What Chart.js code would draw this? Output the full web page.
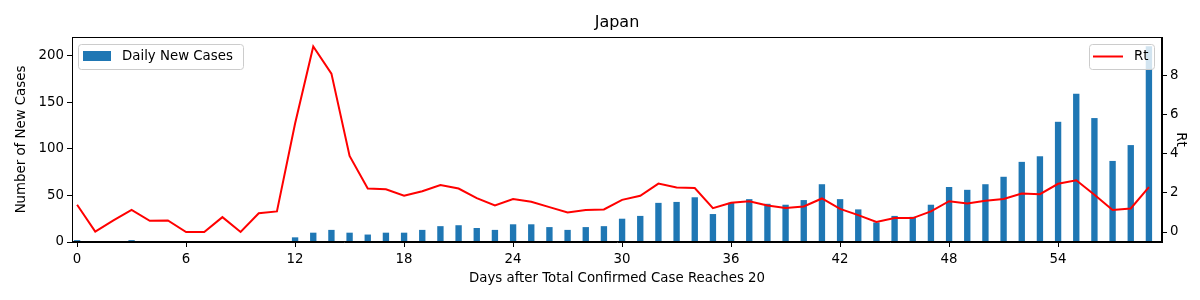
<!doctype html>
<html lang="en">
  <head>
    <meta charset="utf-8">
    <title>Japan - daily new cases and Rt</title>
    <style>
      * { margin: 0; padding: 0; }
      body { background: #ffffff; }
      .chartBox { width: 1200px; height: 300px; }
    </style>
  </head>
  <body>
    <div class="chartBox">
      <canvas id="myChart" width="1200" height="300"></canvas>
    </div>
    <script src="https://cdn.jsdelivr.net/npm/chart.js"></script>
    <script>
    // data
    const days = [0,1,2,3,4,5,6,7,8,9,10,11,12,13,14,15,16,17,18,19,20,21,22,23,24,25,26,27,28,29,
                  30,31,32,33,34,35,36,37,38,39,40,41,42,43,44,45,46,47,48,49,50,51,52,53,54,55,56,57,58,59];
    const dailyNewCases = [2,0,1,2,1,1,0,0,1,0,1,1,5,10,13,10,8,10,10,13,17,18,15,13,19,19,16,13,16,17,
                           25,28,42,43,48,30,42,46,41,40,45,62,46,35,21,28,27,40,59,56,62,70,86,92,129,159,133,87,104,210];
    const rt = [1.39,0.02,0.59,1.13,0.57,0.59,0.0,0.0,0.76,0.0,0.96,1.05,5.54,9.47,8.08,3.88,2.22,2.18,1.85,2.08,
                2.40,2.22,1.73,1.35,1.68,1.54,1.27,1.0,1.12,1.15,1.64,1.85,2.47,2.27,2.24,1.22,1.49,1.57,1.35,1.22,
                1.30,1.71,1.18,0.86,0.51,0.71,0.71,1.05,1.57,1.45,1.59,1.68,1.96,1.93,2.46,2.64,1.90,1.12,1.20,2.29];
    const xTicks = [0,6,12,18,24,30,36,42,48,54];
    const caseTicks = [0,50,100,150,200];
    const rtTicks = [0,2,4,6,8];

    Chart.defaults.font.family = '"DejaVu Sans", sans-serif';
    Chart.defaults.color = '#000000';

    const tickFont = { size: 13.33 };

    // matplotlib style frame, title over the axes and the two separate legends
    const framePlugin = {
      id: 'frame',
      afterDraw(chart) {
        const ctx = chart.ctx;
        const a = chart.chartArea;
        ctx.save();
        ctx.strokeStyle = '#000000';
        ctx.lineWidth = 1;
        ctx.strokeRect(Math.round(a.left) + 0.5, Math.round(a.top) + 0.5,
                       Math.round(a.right - a.left) - 1, Math.round(a.bottom - a.top) - 1);

        // title centred over the plot area
        ctx.font = '16px "DejaVu Sans", sans-serif';
        ctx.fillStyle = '#000000';
        ctx.textAlign = 'center';
        ctx.textBaseline = 'middle';
        ctx.fillText('Japan', (a.left + a.right) / 2, 23);

        function box(x, y, w, h) {
          const r = 3;
          ctx.beginPath();
          ctx.moveTo(x + r, y);
          ctx.arcTo(x + w, y, x + w, y + h, r);
          ctx.arcTo(x + w, y + h, x, y + h, r);
          ctx.arcTo(x, y + h, x, y, r);
          ctx.arcTo(x, y, x + w, y, r);
          ctx.closePath();
          ctx.fillStyle = 'rgba(255,255,255,0.8)';
          ctx.fill();
          ctx.strokeStyle = '#cccccc';
          ctx.lineWidth = 1;
          ctx.stroke();
        }
        ctx.font = '13.33px "DejaVu Sans", sans-serif';
        ctx.textAlign = 'left';

        // left legend: bars
        box(78.5, 44.5, 165, 25);
        ctx.fillStyle = '#1f77b4';
        ctx.fillRect(83, 51, 28, 10);
        ctx.fillStyle = '#000000';
        ctx.fillText('Daily New Cases', 122, 57);

        // right legend: line
        box(1089.5, 44.5, 65, 25);
        ctx.strokeStyle = '#ff0000';
        ctx.lineWidth = 2;
        ctx.beginPath();
        ctx.moveTo(1093, 56.5);
        ctx.lineTo(1123, 56.5);
        ctx.stroke();
        ctx.fillStyle = '#000000';
        ctx.fillText('Rt', 1134, 57);
        ctx.restore();
      }
    };

    const data = {
      datasets: [
        {
          type: 'line',
          label: 'Rt',
          data: days.map((d, i) => ({ x: d, y: rt[i] })),
          yAxisID: 'y1',
          borderColor: '#ff0000',
          borderWidth: 2,
          pointRadius: 0,
          tension: 0,
          order: 0
        },
        {
          type: 'bar',
          label: 'Daily New Cases',
          data: days.map((d, i) => ({ x: d, y: dailyNewCases[i] })),
          yAxisID: 'y',
          backgroundColor: '#1f77b4',
          borderWidth: 0,
          barPercentage: 0.35,
          categoryPercentage: 1,
          order: 1
        }
      ]
    };

    const config = {
      type: 'bar',
      data,
      plugins: [framePlugin],
      options: {
        responsive: false,
        animation: false,
        layout: { padding: { top: 37, left: 0, right: 0, bottom: 0 } },
        plugins: {
          legend: { display: false },
          tooltip: { enabled: false },
          title: { display: false }
        },
        scales: {
          x: {
            type: 'linear',
            offset: false,
            min: -0.28,
            max: 59.72,
            afterBuildTicks: s => { s.ticks = xTicks.map(v => ({ value: v })); },
            afterFit: s => { s.height = 58; },
            ticks: { font: tickFont, padding: 5, maxRotation: 0, autoSkip: false },
            grid: { drawOnChartArea: false, offset: false, drawTicks: true, tickLength: 5, tickColor: '#000000' },
            border: { display: true, color: '#000000' },
            title: {
              display: true,
              text: 'Days after Total Confirmed Case Reaches 20',
              font: { size: 13.33 },
              padding: { top: 0, bottom: 13 }
            }
          },
          y: {
            position: 'left',
            min: 0,
            max: 220,
            afterBuildTicks: s => { s.ticks = caseTicks.map(v => ({ value: v })); },
            afterFit: s => { s.width = 72; },
            ticks: { font: tickFont, padding: 3 },
            grid: { drawOnChartArea: false, drawTicks: true, tickLength: 5, tickColor: '#000000' },
            border: { display: true, color: '#000000' },
            title: {
              display: true,
              text: 'Number of New Cases',
              font: { size: 13.33 },
              padding: { top: 14, bottom: 0 }
            }
          },
          y1: {
            position: 'right',
            min: -0.51,
            max: 9.95,
            afterBuildTicks: s => { s.ticks = rtTicks.map(v => ({ value: v })); },
            afterFit: s => { s.width = 38; },
            ticks: { font: tickFont, padding: 3 },
            grid: { drawOnChartArea: false, drawTicks: true, tickLength: 5, tickColor: '#000000' },
            border: { display: true, color: '#000000' },
            title: {
              display: true,
              text: 'Rt',
              font: { size: 13.33 },
              padding: { top: 12, bottom: 0 }
            }
          }
        }
      }
    };

    const myChart = new Chart(document.getElementById('myChart'), config);
    </script>
  </body>
</html>
